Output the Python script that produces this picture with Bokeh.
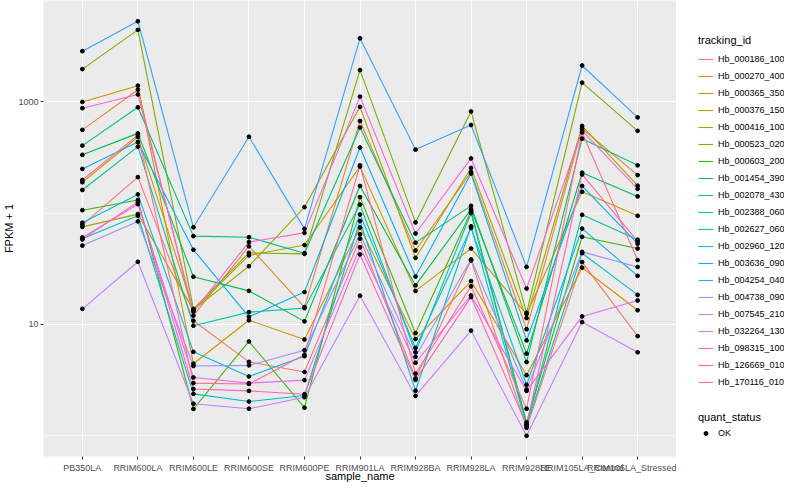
from bokeh.plotting import figure
from bokeh.layouts import row
from bokeh.models import (Range1d, FactorRange, FixedTicker, Legend, LegendItem,
                          PrintfTickFormatter)
from bokeh.embed import file_html
from bokeh.resources import INLINE

samples = ["PB350LA", "RRIM600LA", "RRIM600LE", "RRIM600SE", "RRIM600PE", "RRIM901LA",
           "RRIM928BA", "RRIM928LA", "RRIM928LE", "RRIM105LA_Control", "RRIM105LA_Stressed"]

tracking_ids = ["Hb_000186_100", "Hb_000270_400", "Hb_000365_350", "Hb_000376_150",
                "Hb_000416_100", "Hb_000523_020", "Hb_000603_200", "Hb_001454_390",
                "Hb_002078_430", "Hb_002388_060", "Hb_002627_060", "Hb_002960_120",
                "Hb_003636_090", "Hb_004254_040", "Hb_004738_090", "Hb_007545_210",
                "Hb_032264_130", "Hb_098315_100", "Hb_126669_010", "Hb_170116_010"]

quant_status = ["OK"]

# FPKM + 1 per sample (order of `samples`)
hb_000186_100 = [78.2, 210, 10.8, 4.61, 3.74, 58.8, 3.27, 37.6, 1.18, 36.3, 7.85]
hb_000270_400 = [558, 1280, 12.0, 50.3, 14.3, 670, 46.1, 233, 9.05, 574, 219]
hb_000365_350 = [994, 1390, 4.44, 10.9, 7.32, 74.0, 7.39, 24.5, 3.50, 32.3, 13.4]
hb_000376_150 = [189, 481, 13.4, 41.6, 51.6, 261, 20.0, 48.0, 12.4, 155, 94.5]
hb_000416_100 = [75.1, 97.8, 13.5, 33.3, 113, 898, 39.6, 254, 11.4, 605, 176]
hb_000523_020 = [1960, 4410, 13.8, 43.9, 43.0, 1920, 82.4, 816, 12.7, 1480, 547]
hb_000603_200 = [106, 131, 1.74, 7.03, 1.79, 139, 8.35, 104, 1.32, 61.2, 48.0]
hb_001454_390 = [333, 519, 26.8, 20.0, 10.65, 175, 22.4, 108, 5.47, 230, 141]
hb_002078_430 = [403, 890, 62.0, 60.7, 43.6, 586, 54.2, 116, 4.59, 465, 268]
hb_002388_060 = [161, 395, 9.74, 12.9, 14.0, 119, 5.62, 100, 1.27, 96.4, 57.6]
hb_002627_060 = [58.8, 94.5, 2.38, 2.03, 2.30, 84.8, 2.54, 76.0, 1.23, 43.6, 18.4]
hb_002960_120 = [81.9, 147, 5.67, 3.41, 5.19, 97.0, 6.15, 73.6, 2.87, 72.5, 27.3]
hb_003636_090 = [249, 434, 46.8, 11.7, 19.5, 387, 26.9, 226, 7.18, 175, 53.1]
hb_004254_040 = [2840, 5270, 74.5, 484, 72.1, 3700, 371, 617, 32.8, 2110, 722]
hb_004738_090 = [51.0, 84.1, 4.23, 4.29, 5.86, 64.6, 5.12, 38.4, 2.60, 44.8, 32.8]
hb_007545_210 = [13.8, 36.5, 1.94, 1.75, 2.22, 18.1, 2.28, 8.80, 1.00, 10.5, 5.62]
hb_032264_130 = [60.4, 120, 3.34, 2.97, 3.16, 49.3, 4.53, 18.2, 2.53, 11.8, 16.4]
hb_098315_100 = [873, 1160, 13.05, 54.9, 66.4, 1110, 65.5, 309, 21.0, 547, 165]
hb_126669_010 = [58.0, 126, 2.63, 2.53, 2.36, 42.5, 3.18, 17.6, 1.25, 222, 55.7]
hb_170116_010 = [198, 501, 2.97, 2.92, 5.33, 268, 3.62, 22.0, 1.75, 529, 37.8]

series = [hb_000186_100, hb_000270_400, hb_000365_350, hb_000376_150, hb_000416_100,
          hb_000523_020, hb_000603_200, hb_001454_390, hb_002078_430, hb_002388_060,
          hb_002627_060, hb_002960_120, hb_003636_090, hb_004254_040, hb_004738_090,
          hb_007545_210, hb_032264_130, hb_098315_100, hb_126669_010, hb_170116_010]

colors = ["#F8766D", "#EA8331", "#D89000", "#C09B00", "#A3A500", "#7CAE00", "#39B600",
          "#00BB4E", "#00BF7D", "#00C1A3", "#00BFC4", "#00BAE0", "#00B0F6", "#35A2FF",
          "#9590FF", "#C77CFF", "#E76BF3", "#FA62DB", "#FF62BC", "#FF6C91"]

FONT = "Liberation Sans"
W1, W2, H = 676, 108, 484

p = figure(width=W1, height=H,
           x_range=FactorRange(factors=samples, range_padding=0.2, range_padding_units="absolute"),
           y_axis_type="log", y_range=Range1d(0.652, 8090),
           output_backend="svg", toolbar_location=None,
           min_border_left=37, min_border_right=0, min_border_top=0, min_border_bottom=0)

p.background_fill_color = "#EBEBEB"
p.border_fill_color = "white"
p.outline_line_color = None

yt = FixedTicker(ticks=[10, 1000], minor_ticks=[1, 100, 10000])
p.yaxis.ticker = yt
p.ygrid.ticker = yt
p.ygrid.grid_line_color = "white"
p.ygrid.grid_line_width = 1.1
p.ygrid.minor_grid_line_color = "white"
p.ygrid.minor_grid_line_width = 0.55
p.xgrid.grid_line_color = "white"
p.xgrid.grid_line_width = 1.1

for ax in (p.xaxis, p.yaxis):
    ax.axis_line_color = None
    ax.major_tick_line_color = "#333333"
    ax.major_tick_out = 3
    ax.major_tick_in = 0
    ax.minor_tick_line_color = None
    ax.major_label_text_font = FONT
    ax.major_label_text_font_size = "9px"
    ax.major_label_text_color = "#4D4D4D"
    ax.axis_label_text_font = FONT
    ax.axis_label_text_font_size = "11px"
    ax.axis_label_text_font_style = "normal"
    ax.axis_label_text_color = "black"

p.yaxis.major_label_standoff = 1
p.yaxis.axis_label_standoff = 0
p.xaxis.major_label_standoff = 3
p.xaxis.axis_label_standoff = -6

p.yaxis.formatter = PrintfTickFormatter(format="%d")
p.xaxis.axis_label = "sample_name"
p.yaxis.axis_label = "FPKM + 1"

for vals, c in zip(series, colors):
    p.line(samples, vals, line_color=c, line_width=1.1)

for vals in series:
    p.scatter(samples, vals, size=3.8, marker="circle",
              fill_color="black", line_color="black")

# legend panel (separate figure, no axes); key renderers sit outside its view
q = figure(width=W2, height=H, x_range=Range1d(0, 1), y_range=Range1d(0, 1),
           output_backend="svg", toolbar_location=None,
           x_axis_location=None, y_axis_location=None,
           min_border_left=0, min_border_right=0, min_border_top=0, min_border_bottom=0)
q.outline_line_color = None
q.grid.visible = False
q.background_fill_color = "white"
q.border_fill_color = "white"

key_lines = [q.line([5, 6], [5, 6], line_color=c, line_width=1.1) for c in colors]
key_point = q.scatter([5], [5], size=3.8, marker="circle", fill_color="black", line_color="black")

def style_legend(lg):
    lg.title_text_font = FONT
    lg.title_text_font_size = "11px"
    lg.title_text_font_style = "normal"
    lg.title_text_color = "black"
    lg.title_standoff = 5
    lg.label_text_font = FONT
    lg.label_text_font_size = "9px"
    lg.label_text_color = "black"
    lg.glyph_width = 15
    lg.glyph_height = 16
    lg.label_height = 16
    lg.label_standoff = 5
    lg.spacing = 1
    lg.padding = 0
    lg.margin = 0
    lg.border_line_alpha = 0
    lg.background_fill_alpha = 0

leg1 = Legend(items=[LegendItem(label=t, renderers=[r]) for t, r in zip(tracking_ids, key_lines)],
              title="tracking_id", location=(22, 66))
style_legend(leg1)
q.add_layout(leg1, "center")

leg2 = Legend(items=[LegendItem(label=s, renderers=[key_point]) for s in quant_status],
              title="quant_status", location=(22, 15))
style_legend(leg2)
leg2.glyph_height = 10
leg2.title_standoff = 2
q.add_layout(leg2, "center")

layout = row(p, q)
open("out.html", "w").write(file_html(layout, INLINE))
